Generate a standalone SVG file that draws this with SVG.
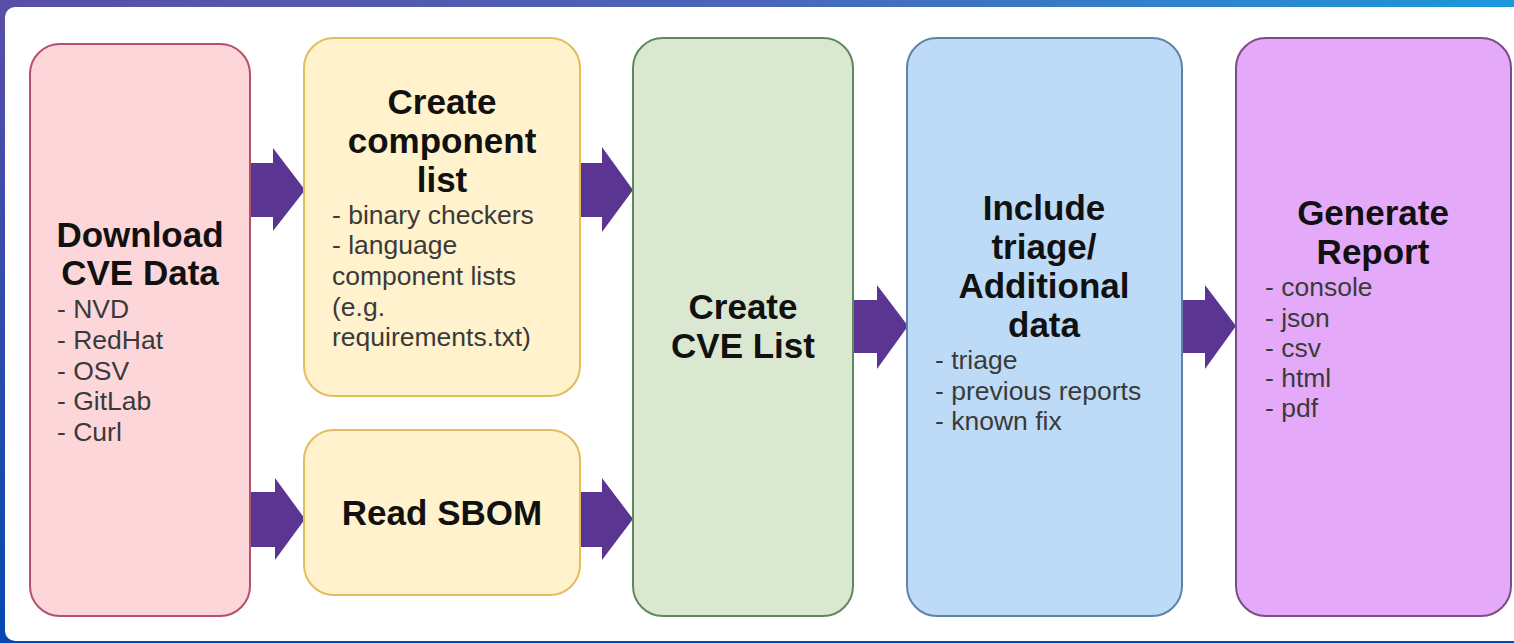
<svg xmlns="http://www.w3.org/2000/svg" width="1514" height="643" viewBox="0 0 1514 643">
<defs>
<linearGradient id="gTop" x1="0" y1="0" x2="1" y2="0">
<stop offset="0" stop-color="#5a4ea7"/>
<stop offset="0.5" stop-color="#4a66b8"/>
<stop offset="1" stop-color="#1c98db"/>
</linearGradient>
<linearGradient id="gLeft" x1="0" y1="0" x2="0" y2="1">
<stop offset="0" stop-color="#5a4ea7"/>
<stop offset="1" stop-color="#0548b1"/>
</linearGradient>
<style>
.node{stroke-width:2}
.t{font-family:"Liberation Sans",Arial,sans-serif;font-weight:bold;font-size:35px;fill:#111;text-anchor:middle}
.b{font-family:"Liberation Sans",Arial,sans-serif;font-size:26.5px;fill:#3a3a3a}
.arr{fill:#5b3592}
</style>
</defs>
<rect x="0" y="0" width="1514" height="643" fill="url(#gLeft)"/>
<rect x="0" y="0" width="1514" height="20" fill="url(#gTop)"/>
<rect x="5" y="7" width="1530" height="634" rx="10" fill="#ffffff"/>

<g id="connectors">
<polygon class="arr" points="250,163 273,163 273,148 305,190 273,231 273,217 250,217"/>
<polygon class="arr" points="250,492 275,492 275,478 305,519 275,560 275,547 250,547"/>
<polygon class="arr" points="578,163 602,163 602,147 633,190 602,232 602,217 578,217"/>
<polygon class="arr" points="578,492 602,492 602,478 633,519 602,560 602,547 578,547"/>
<polygon class="arr" points="853,300 877,300 877,285 908,326 877,369 877,353 853,353"/>
<polygon class="arr" points="1182,300 1205,300 1205,285 1236,326 1205,369 1205,353 1182,353"/>
</g>

<g id="download">
<rect class="node" x="30" y="44" width="220" height="572" rx="30" fill="#fdd6da" stroke="#b5506f"/>
<text class="t" x="140" y="247">Download</text>
<text class="t" x="140" y="285">CVE Data</text>
<text class="b" x="57" y="318">- NVD</text>
<text class="b" x="57" y="349">- RedHat</text>
<text class="b" x="57" y="380">- OSV</text>
<text class="b" x="57" y="410">- GitLab</text>
<text class="b" x="57" y="441">- Curl</text>
</g>

<g id="component">
<rect class="node" x="304" y="38" width="276" height="358" rx="30" fill="#fff2cc" stroke="#e3bd5e"/>
<text class="t" x="442" y="114">Create</text>
<text class="t" x="442" y="153">component</text>
<text class="t" x="442" y="192">list</text>
<text class="b" x="332" y="224">- binary checkers</text>
<text class="b" x="332" y="254">- language</text>
<text class="b" x="332" y="285">component lists</text>
<text class="b" x="332" y="316">(e.g.</text>
<text class="b" x="332" y="346">requirements.txt)</text>
</g>

<g id="sbom">
<rect class="node" x="304" y="430" width="276" height="165" rx="30" fill="#fff2cc" stroke="#e3bd5e"/>
<text class="t" x="442" y="525">Read SBOM</text>
</g>

<g id="cvelist">
<rect class="node" x="633" y="38" width="220" height="578" rx="30" fill="#dae8d1" stroke="#5d8a5d"/>
<text class="t" x="743" y="319">Create</text>
<text class="t" x="743" y="358">CVE List</text>
</g>

<g id="triage">
<rect class="node" x="907" y="38" width="275" height="578" rx="30" fill="#bddaf6" stroke="#5f82ab"/>
<text class="t" x="1044" y="220">Include</text>
<text class="t" x="1044" y="259">triage/</text>
<text class="t" x="1044" y="298">Additional</text>
<text class="t" x="1044" y="337">data</text>
<text class="b" x="935" y="369">- triage</text>
<text class="b" x="935" y="400">- previous reports</text>
<text class="b" x="935" y="430">- known fix</text>
</g>

<g id="report">
<rect class="node" x="1236" y="38" width="275" height="578" rx="30" fill="#e4aaf9" stroke="#7c4c86"/>
<text class="t" x="1373" y="225">Generate</text>
<text class="t" x="1373" y="264">Report</text>
<text class="b" x="1265" y="296">- console</text>
<text class="b" x="1265" y="327">- json</text>
<text class="b" x="1265" y="357">- csv</text>
<text class="b" x="1265" y="387">- html</text>
<text class="b" x="1265" y="417">- pdf</text>
</g>
</svg>
